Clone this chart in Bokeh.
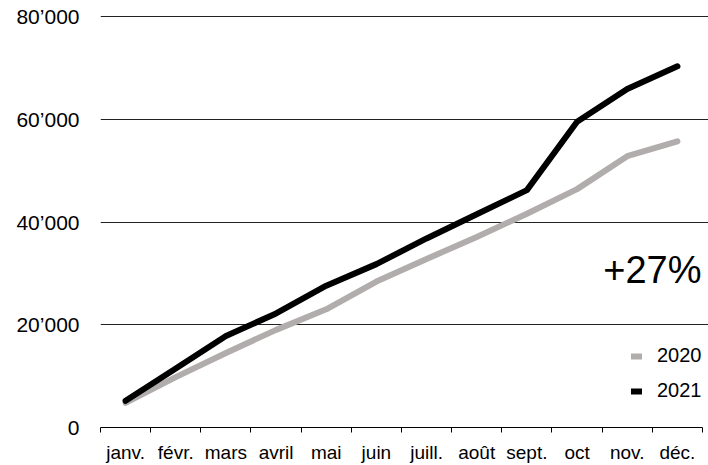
from bokeh.plotting import figure
from bokeh.models import FixedTicker, Range1d, Label, ColumnDataSource
from bokeh.embed import file_html
from bokeh.resources import INLINE

months = ["janv.", "févr.", "mars", "avril", "mai", "juin",
          "juill.", "août", "sept.", "oct", "nov.", "déc."]
sales_2020 = [4800, 9800, 14500, 19000, 23000, 28400, 32800, 37100, 41600, 46400, 52800, 55700]
sales_2021 = [5200, 11500, 17800, 22200, 27600, 31800, 36800, 41500, 46200, 59500, 65900, 70300]
y_ticks = [0, 20000, 40000, 60000, 80000]
y_tick_labels = ["0", "20’000", "40’000", "60’000", "80’000"]
growth_text = "+27%"

FONT = "Liberation Sans"
x_pos = [i + 0.5 for i in range(len(months))]

p = figure(width=708, height=465, output_backend="svg", toolbar_location=None,
           x_range=Range1d(0, 12.12), y_range=Range1d(0, 80390),
           min_border_left=100, min_border_right=0, min_border_top=14, min_border_bottom=35)
p.outline_line_color = None
p.background_fill_color = "white"
p.border_fill_color = "white"

src = ColumnDataSource(dict(x=x_pos, a=sales_2020, b=sales_2021))
p.line("x", "a", source=src, line_color="#b0adac", line_width=6,
       line_cap="round", line_join="round", legend_label="2020")
p.line("x", "b", source=src, line_color="black", line_width=6,
       line_cap="round", line_join="round", legend_label="2021")

# x axis: tick marks at month boundaries, labels at month centers
xa = p.xaxis[0]
xa.ticker = FixedTicker(ticks=x_pos, minor_ticks=list(range(len(months) + 1)))
xa.major_label_overrides = {x: m for x, m in zip(x_pos, months)}
xa.major_tick_line_color = None
xa.minor_tick_line_color = "black"
xa.minor_tick_out = 5
xa.minor_tick_in = 0
xa.axis_line_color = "black"
xa.bounds = (0, 12)
xa.major_label_text_font = FONT
xa.major_label_text_font_size = "19px"
xa.major_label_text_color = "black"
xa.major_label_standoff = 8

ya = p.yaxis[0]
ya.ticker = FixedTicker(ticks=y_ticks)
ya.major_label_overrides = {t: l for t, l in zip(y_ticks, y_tick_labels)}
ya.axis_line_color = None
ya.major_tick_line_color = None
ya.minor_tick_line_color = None
ya.major_label_standoff = 15
ya.major_label_text_font = FONT
ya.major_label_text_font_size = "21px"
ya.major_label_text_color = "black"

p.xgrid.grid_line_color = None
p.ygrid.ticker = FixedTicker(ticks=y_ticks[1:])
p.ygrid.grid_line_color = "#222222"
p.ygrid.grid_line_width = 1

p.add_layout(Label(x=12.12, y=30600, text=growth_text, text_align="right",
                   text_baseline="middle", x_offset=-7,
                   text_font=FONT, text_font_size="38px", text_color="black"))

lg = p.legend[0]
lg.location = (531, 25)
lg.glyph_width = 11
lg.glyph_height = 20
lg.label_height = 20
lg.spacing = 12
lg.padding = 0
lg.margin = 0
lg.label_standoff = 15
lg.border_line_color = None
lg.background_fill_alpha = 0
lg.label_text_font = FONT
lg.label_text_font_size = "20px"
lg.label_text_color = "black"

open("out.html", "w").write(file_html(p, INLINE))
